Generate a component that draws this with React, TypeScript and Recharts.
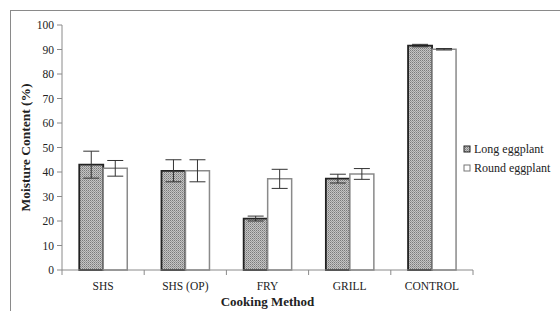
import React from 'react';
import { BarChart, Bar, XAxis, YAxis, ErrorBar, Legend } from 'recharts';

const categories = ['SHS', 'SHS (OP)', 'FRY', 'GRILL', 'CONTROL'];
const longValues = [43, 40.5, 21, 37.3, 91.6];
const longErrors = [5.5, 4.5, 1, 1.8, 0.5];
const roundValues = [41.5, 40.5, 37.2, 39.2, 90.1];
const roundErrors = [3.2, 4.5, 3.9, 2.2, 0.3];
const yTicks = [0, 10, 20, 30, 40, 50, 60, 70, 80, 90, 100];
const seriesNames = ['Long eggplant', 'Round eggplant'];

const data = categories.map((c, i) => ({
  name: c,
  long: longValues[i],
  longErr: longErrors[i],
  round: roundValues[i],
  roundErr: roundErrors[i],
}));

const W = 560;
const H = 311;
const MARGIN = { top: 25, right: 87, bottom: 11, left: 10 };
const Y_W = 52;
const PLOT_W = W - MARGIN.left - MARGIN.right - Y_W;
const FONT = 'Liberation Serif, Times New Roman, serif';

const CategoryTick = (props: any) => {
  const { x, y, payload } = props;
  const bw = PLOT_W / categories.length;
  const isLast = payload.value === categories[categories.length - 1];
  return (
    <g>
      <line x1={x - bw / 2} y1={y} x2={x - bw / 2} y2={y + 5} stroke="#8a8a8a" />
      {isLast && <line x1={x + bw / 2} y1={y} x2={x + bw / 2} y2={y + 5} stroke="#8a8a8a" />}
      <text x={x} y={y + 20} textAnchor="middle" style={{ fontFamily: FONT, fontSize: 11.5, fill: '#222' }}>
        {payload.value}
      </text>
    </g>
  );
};

const LegendContent = () => (
  <div style={{ fontFamily: FONT, fontSize: 12, color: '#222', lineHeight: '19px' }}>
    {seriesNames.map((n, i) => (
      <div key={n} style={{ display: 'flex', alignItems: 'center' }}>
        <svg width={9} height={9} style={{ marginRight: 2 }}>
          <rect
            x={1}
            y={1}
            width={6}
            height={6}
            fill={i === 0 ? 'url(#hatch)' : '#fff'}
            stroke={i === 0 ? '#222' : '#777'}
            strokeWidth={1}
          />
        </svg>
        <span>{n}</span>
      </div>
    ))}
  </div>
);

export default function App() {
  return (
    <div style={{ position: 'absolute', left: 0, top: 0, width: W, height: H, overflow: 'hidden', background: '#fff' }}>
      <div
        style={{
          position: 'absolute',
          left: 10,
          top: 10,
          width: 700,
          height: 500,
          border: '1px solid #8a8a8a',
        }}
      />
      <div style={{ position: 'absolute', left: 0, top: 0 }}>
        <BarChart
          width={W}
          height={H}
          data={data}
          margin={MARGIN}
          barCategoryGap="21%"
          barGap={0}
        >
          <defs>
            <pattern id="hatch" patternUnits="userSpaceOnUse" width={2} height={2}>
              <rect x={0} y={0} width={2} height={2} fill="#c4c4c4" />
              <rect x={0} y={0} width={1} height={1} fill="#7a7a7a" />
              <rect x={1} y={1} width={1} height={1} fill="#9a9a9a" />
            </pattern>
          </defs>
          <XAxis
            dataKey="name"
            height={30}
            tickLine={false}
            tickSize={0}
            tickMargin={0}
            axisLine={{ stroke: '#8a8a8a' }}
            tick={<CategoryTick />}
            interval={0}
            label={{
              value: 'Cooking Method',
              position: 'insideBottom',
              offset: -6,
              style: { fontFamily: FONT, fontSize: 13, fontWeight: 'bold', fill: '#222' },
            }}
          />
          <YAxis
            width={Y_W}
            domain={[0, 100]}
            ticks={yTicks}
            interval={0}
            tickSize={5}
            tickMargin={3}
            axisLine={{ stroke: '#8a8a8a' }}
            tickLine={{ stroke: '#8a8a8a' }}
            tick={{ style: { fontFamily: FONT, fontSize: 11.5, fill: '#222' } }}
            label={{
              value: 'Moisture Content (%)',
              angle: -90,
              position: 'insideLeft',
              offset: 15,
              style: { textAnchor: 'middle', fontFamily: FONT, fontSize: 13.5, fontWeight: 'bold', fill: '#222' },
            }}
          />
          <Legend
            layout="vertical"
            align="center"
            verticalAlign="middle"
            content={<LegendContent />}
            wrapperStyle={{ left: 463, top: 140, width: 100, height: 40 }}
          />
          <Bar dataKey="long" name={seriesNames[0]} fill="url(#hatch)" stroke="#222" strokeWidth={1.8} isAnimationActive={false}>
            <ErrorBar dataKey="longErr" width={8} stroke="#333" strokeWidth={1} />
          </Bar>
          <Bar dataKey="round" name={seriesNames[1]} fill="#fff" stroke="#8a8a8a" strokeWidth={1.5} isAnimationActive={false}>
            <ErrorBar dataKey="roundErr" width={8} stroke="#333" strokeWidth={1} />
          </Bar>
        </BarChart>
      </div>
    </div>
  );
}
